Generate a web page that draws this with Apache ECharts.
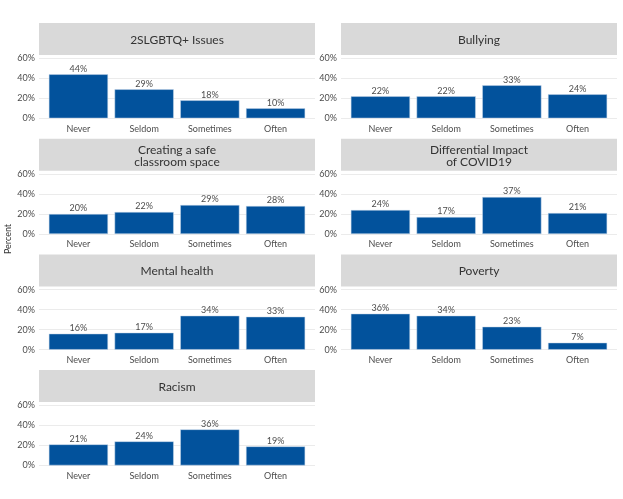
<!DOCTYPE html>
<html>
<head>
<meta charset="utf-8">
<script src="https://cdn.jsdelivr.net/npm/echarts@6/dist/echarts.min.js"></script>
<style>
html,body{margin:0;padding:0;background:#fff;}
#chart{width:623px;height:499px;}
</style>
</head>
<body>
<div id="chart"></div>
<script>
// ---- data ----
const categories = ['Never', 'Seldom', 'Sometimes', 'Often'];
const panelTitles = [
  '2SLGBTQ+ Issues',
  'Bullying',
  'Creating a safe\nclassroom space',
  'Differential Impact\nof COVID19',
  'Mental health',
  'Poverty',
  'Racism'
];
const lgbtqValues = [44, 29, 18, 10];
const bullyingValues = [22, 22, 33, 24];
const safeClassroomValues = [20, 22, 29, 28];
const covidValues = [24, 17, 37, 21];
const mentalHealthValues = [16, 17, 34, 33];
const povertyValues = [36, 34, 23, 7];
const racismValues = [21, 24, 36, 19];
const yTicks = [0, 20, 40, 60];
const yAxisTitle = 'Percent';

const panelValues = [lgbtqValues, bullyingValues, safeClassroomValues, covidValues,
  mentalHealthValues, povertyValues, racismValues];

// ---- layout ----
const FONT = 'Lato, "Open Sans", sans-serif';
const colStep = 302, rowStep = 115.7;
const stripLeft = 39, stripW = 276, stripTop = 23, stripH = 32;
const plotTop = 58.3, plotH = 60;
const step = stripW / 4.2;
const barLeft = stripLeft + 0.1 * step, barW = step * 4;

const grid = [], xAxis = [], yAxis = [], series = [], graphic = [];

panelValues.forEach((vals, i) => {
  const col = i % 2, row = Math.floor(i / 2);
  const ox = col * colStep, oy = row * rowStep;
  // full-width grid for gridlines and y labels
  grid.push({left: stripLeft + ox, top: plotTop + oy, width: stripW, height: plotH, containLabel: false});
  const gFull = grid.length - 1;
  xAxis.push({gridIndex: gFull, type: 'value', min: 0, max: 1, show: false});
  yAxis.push({
    gridIndex: gFull, type: 'value', min: yTicks[0], max: yTicks[yTicks.length - 1], interval: 20,
    axisLine: {show: false}, axisTick: {show: false},
    axisLabel: {formatter: '{value}%', fontSize: 9, color: '#4d4d4d', fontFamily: FONT, margin: 4},
    splitLine: {lineStyle: {color: '#ebebeb', width: 1}}
  });
  // bar grid
  grid.push({left: barLeft + ox, top: plotTop + oy, width: barW, height: plotH, containLabel: false});
  const gBar = grid.length - 1;
  xAxis.push({
    gridIndex: gBar, type: 'category', data: categories,
    axisLine: {show: false}, axisTick: {show: false},
    axisLabel: {fontSize: 9, color: '#4d4d4d', fontFamily: FONT, margin: 6}
  });
  yAxis.push({gridIndex: gBar, type: 'value', min: 0, max: 60, show: false, splitLine: {show: false}});
  series.push({
    type: 'bar', xAxisIndex: xAxis.length - 1, yAxisIndex: yAxis.length - 1,
    data: vals, barWidth: '90%',
    itemStyle: {color: '#02529c', borderColor: '#c9d8ea', borderWidth: 0.5},
    label: {show: true, position: 'top', distance: 1, formatter: '{c}%', fontSize: 9, color: '#4d4d4d', fontFamily: FONT},
    silent: true, animation: false
  });
  // strip
  graphic.push({
    type: 'rect', left: stripLeft + ox, top: stripTop + oy,
    shape: {width: stripW, height: stripH}, style: {fill: '#d9d9d9'}, silent: true
  });
  graphic.push({
    type: 'text', x: stripLeft + ox + stripW / 2, y: stripTop + oy + stripH / 2 + 1,
    style: {text: panelTitles[i], fill: '#333333', font: '12px ' + FONT, textAlign: 'center', textVerticalAlign: 'middle', lineHeight: 12},
    silent: true
  });
});

graphic.push({
  type: 'text', x: 8, y: 239, rotation: Math.PI / 2,
  style: {text: yAxisTitle, fill: '#333333', font: '9px ' + FONT, textAlign: 'center', textVerticalAlign: 'middle'},
  silent: true
});

const chart = echarts.init(document.getElementById('chart'), null, {renderer: 'canvas'});
chart.setOption({
  backgroundColor: '#ffffff',
  animation: false,
  grid, xAxis, yAxis, series, graphic
});
</script>
</body>
</html>
